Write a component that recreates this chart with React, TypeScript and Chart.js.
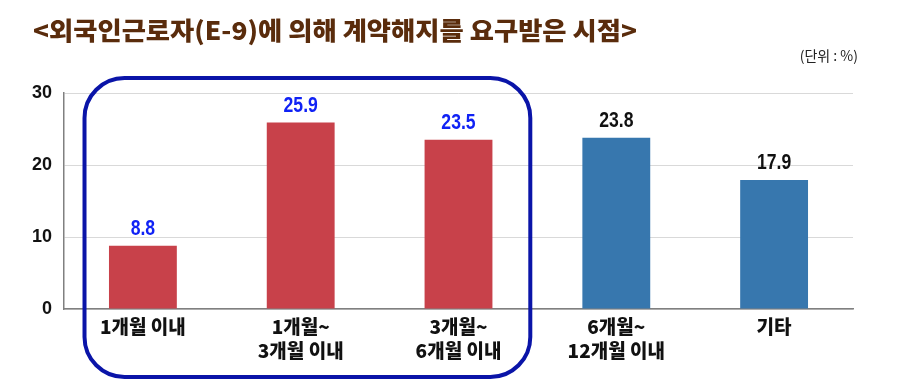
import React, { useEffect, useRef } from "react";
import { Chart, registerables } from "chart.js";

Chart.register(...registerables);

const TITLE = "<외국인근로자(E-9)에 의해 계약해지를 요구받은 시점>";
const UNIT_LABEL = "(단위 : %)";
const categories: string[][] = [
  ["1개월 이내"],
  ["1개월~", "3개월 이내"],
  ["3개월~", "6개월 이내"],
  ["6개월~", "12개월 이내"],
  ["기타"],
];
const values = [8.8, 25.9, 23.5, 23.8, 17.9];
const barColors = ["#C8414A", "#C8414A", "#C8414A", "#3777AE", "#3777AE"];
const labelColors = ["#1022F5", "#1022F5", "#1022F5", "#111111", "#111111"];
const yTicks = [0, 10, 20, 30];
const highlightedRange = [0, 2];

const NUM_FONT = "'Liberation Sans Narrow', 'Arial Narrow', 'Liberation Sans', Arial, sans-serif";
const KR_FONT = "'Noto Sans CJK KR', 'Noto Sans', sans-serif";

const overlayPlugin = {
  id: "overlay",
  afterDatasetsDraw(chart: any) {
    const ctx = chart.ctx;
    const xs = chart.scales.x;
    const area = chart.chartArea;
    const meta = chart.getDatasetMeta(0);
    // data labels (condensed look)
    meta.data.forEach((bar: any, i: number) => {
      ctx.save();
      ctx.font = `bold 22px ${NUM_FONT}`;
      ctx.textAlign = "center";
      ctx.textBaseline = "middle";
      ctx.fillStyle = labelColors[i];
      ctx.translate(bar.x, bar.y - 17);
      ctx.scale(0.8, 1);
      ctx.fillText(values[i].toFixed(1), 0, 0);
      ctx.restore();
    });

    // highlight rounded box
    const catW = (area.right - area.left) / values.length;
    const left = xs.getPixelForValue(highlightedRange[0]) - catW * 0.37;
    const right = xs.getPixelForValue(highlightedRange[1]) + catW * 0.455;
    const top = area.top - 15;
    const bottom = chart.height - 8;
    const r = 40;
    ctx.save();
    ctx.strokeStyle = "#0A14A8";
    ctx.lineWidth = 4;
    ctx.beginPath();
    ctx.moveTo(left + r, top);
    ctx.lineTo(right - r, top);
    ctx.arcTo(right, top, right, top + r, r);
    ctx.lineTo(right, bottom - r);
    ctx.arcTo(right, bottom, right - r, bottom, r);
    ctx.lineTo(left + r, bottom);
    ctx.arcTo(left, bottom, left, bottom - r, r);
    ctx.lineTo(left, top + r);
    ctx.arcTo(left, top, left + r, top, r);
    ctx.closePath();
    ctx.stroke();
    ctx.restore();

    // title
    ctx.save();
    ctx.font = `900 25px ${KR_FONT}`;
    ctx.fillStyle = "#5A2C0C";
    ctx.textAlign = "left";
    ctx.textBaseline = "middle";
    const w = ctx.measureText(TITLE).width;
    const target = 604;
    ctx.translate(33, 30);
    ctx.scale(target / w, 1);
    ctx.fillText(TITLE, 0, 0);
    ctx.restore();

    // unit
    ctx.save();
    ctx.font = `14px ${KR_FONT}`;
    ctx.fillStyle = "#222222";
    ctx.textAlign = "right";
    ctx.textBaseline = "middle";
    ctx.fillText(UNIT_LABEL, 858, 56);
    ctx.restore();
  },
};

export default function App() {
  const ref = useRef<HTMLCanvasElement>(null);
  useEffect(() => {
    document.body.style.margin = "0";
    const chart = new Chart(ref.current!, {
      type: "bar",
      data: {
        labels: categories,
        datasets: [
          {
            data: values,
            backgroundColor: barColors,
            barPercentage: 0.43,
            categoryPercentage: 1,
          },
        ],
      },
      options: {
        animation: false,
        responsive: false,
        maintainAspectRatio: false,
        layout: { padding: { left: 0, right: 49, top: 93, bottom: 0 } },
        plugins: { legend: { display: false }, tooltip: { enabled: false } },
        scales: {
          x: {
            grid: { display: false, drawTicks: false },
            border: { display: true, color: "#808080", width: 1.5 },
            ticks: {
              color: "#111111",
              font: { family: KR_FONT, size: 19, weight: "900", lineHeight: 1.3 },
              padding: 5,
              maxRotation: 0,
              autoSkip: false,
            },
            afterFit(scale: any) {
              scale.height = 76;
            },
          },
          y: {
            min: 0,
            max: 30,
            afterBuildTicks(scale: any) {
              scale.ticks = yTicks.map((v) => ({ value: v }));
            },
            grid: { color: "#D9D9D9", lineWidth: 1, drawTicks: false },
            border: { display: true, color: "#808080", width: 1.5 },
            ticks: {
              color: "#111111",
              font: { family: NUM_FONT, size: 18, weight: "bold" },
              padding: 12,
            },
            afterFit(scale: any) {
              scale.width = 64;
            },
          },
        },
      },
      plugins: [overlayPlugin],
    });
    return () => chart.destroy();
  }, []);
  return (
    <div style={{ width: 902, height: 385, background: "#fff" }}>
      <canvas ref={ref} width={902} height={385} />
    </div>
  );
}
